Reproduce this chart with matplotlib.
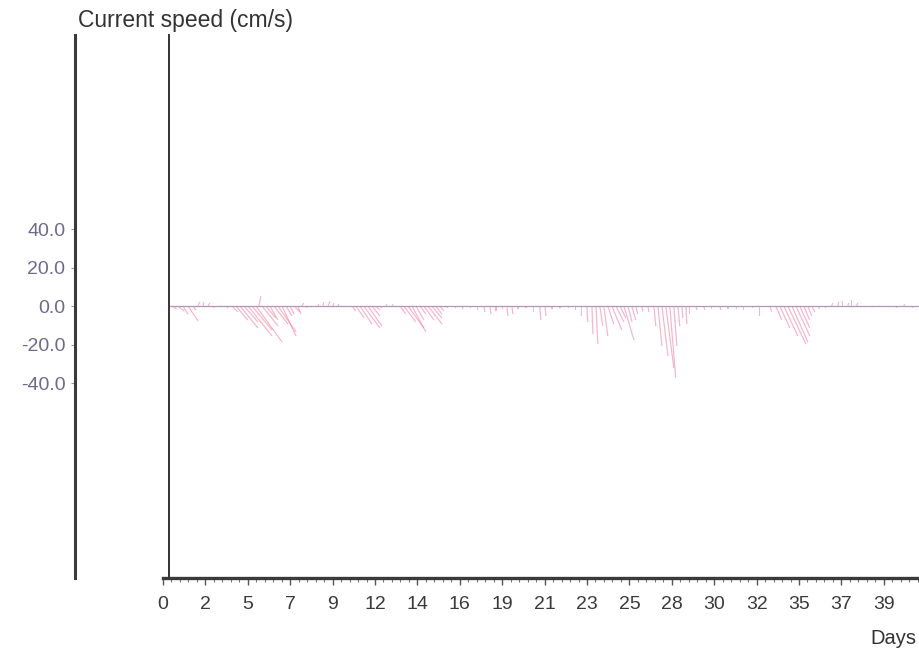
import numpy as np
import matplotlib
matplotlib.use("Agg")
import matplotlib.pyplot as plt
from matplotlib.ticker import FixedLocator, MultipleLocator

plt.rcParams['font.family'] = ['Liberation Sans', 'DejaVu Sans']

# ---------------- data ----------------
# time of each current vector (days)
days = [0.49, 0.82, 1.09, 1.37, 1.64, 1.91, 2.19, 2.46, 2.74, 3.12, 3.45,
        3.77, 3.99, 4.21, 4.43, 4.65, 4.87, 5.09, 5.25, 5.42, 5.63, 5.85,
        6.07, 6.29, 6.51, 6.73, 6.95, 7.17, 7.38, 7.60, 7.82, 8.10,
        8.48, 8.75, 9.03, 9.30, 9.57, 9.90,
        10.34, 10.56, 10.78, 10.99, 11.21, 11.43, 11.65, 11.87, 12.20, 12.53, 12.75,
        12.96, 13.18, 13.40, 13.62, 13.84, 14.06, 14.28, 14.50, 14.71, 14.93, 15.15, 15.48,
        15.97, 16.36, 16.79, 17.23, 17.56, 17.89, 18.22, 18.54, 18.82, 19.09, 19.42,
        19.86, 20.29, 20.62, 20.90, 21.28, 21.72, 22.15, 22.59, 22.92, 23.19, 23.47,
        23.69, 23.90, 24.12, 24.34, 24.56, 24.78, 25.00, 25.22, 25.44, 25.65, 25.87,
        26.20, 26.53,
        26.86, 27.08, 27.30, 27.51, 27.73, 27.95, 28.17, 28.39, 28.61, 28.83, 29.16,
        29.59, 30.03, 30.47, 30.91, 31.34, 31.78, 32.22, 32.66,
        33.20, 33.53, 33.75, 33.97, 34.19, 34.41, 34.63, 34.84, 35.06, 35.28, 35.50,
        35.83, 36.21,
        36.59, 36.92, 37.20, 37.47, 37.69, 37.96, 38.34, 38.78, 39.22, 39.66, 40.10,
        40.53, 40.97]

# eastward component (cm/s)
u = [2.6, 3.1, 2.6, 5.2, 1.6, 1.0, 0.5, 1.0, 0.5, 1.0, 1.0,
     3.1, 6.2, 9.4, 7.3, 12.5, 10.4, 13.5, 1.0, 8.3, 5.2, 4.2,
     7.3, 9.4, 7.3, 3.1, 2.1, 3.1, 1.6, 1.0, 0.5, 0.5,
     0.5, 0.5, 1.0, 0.5, 0.5, 0.5,
     2.1, 4.2, 6.2, 8.3, 7.3, 4.2, 2.1, 1.0, 0.5, 0.5, 0.5,
     3.1, 6.2, 8.3, 7.3, 4.2, 3.1, 5.2, 7.3, 5.2, 3.1, 2.1, 1.0,
     0.5, 0.5, 0.5, 0.0, 0.5, 0.5, 0.0, 0.5, 0.5, 0.5, 0.0,
     0.0, 0.0, 0.5, 0.5, 0.0, 0.0, 0.5, 0.0, 0.0, 0.5, 0.5,
     1.0, 1.6, 2.1, 3.1, 5.2, 4.2, 3.1, 5.2, 2.1, 2.1, 1.0,
     0.5, 0.5,
     1.0, 2.1, 3.1, 4.2, 3.1, 1.6, 1.0, 0.5, 0.5, 0.0, 0.5,
     0.5, 0.0, 0.5, 0.0, 0.5, 0.0, 0.5, 0.0,
     1.0, 3.1, 5.2, 7.3, 9.4, 8.3, 7.3, 5.2, 3.1, 2.1, 1.6,
     1.0, 0.5,
     0.5, 0.5, 0.0, 0.5, 0.0, 0.5, 0.5, 0.5, 0.0, 0.5, 0.5,
     0.5, 0.5]

# northward component (cm/s)
v = [-1.6, -2.6, -4.2, -7.8, -2.1, 2.1, 2.1, 1.6, -1.0, -0.5, -1.0,
     -3.1, -7.3, -11.4, -8.3, -15.6, -12.5, -18.7, 5.2, -10.4, -6.2, -7.3,
     -9.4, -13.5, -15.6, -5.2, -4.2, -3.1, -4.2, 1.6, -1.0, -0.5,
     1.0, 2.1, 2.6, 1.6, 1.0, -0.5,
     -2.6, -6.2, -9.4, -11.4, -10.4, -5.2, -2.1, -1.0, 1.0, 1.0, -0.5,
     -4.2, -8.3, -11.4, -13.5, -7.3, -4.2, -7.3, -9.4, -6.2, -4.2, -2.6, -1.0,
     -1.0, -1.6, -1.0, -2.1, -3.1, -4.2, -2.6, -1.6, -5.2, -4.2, -1.6,
     -1.0, -3.1, -7.3, -5.2, -1.6, -1.0, -1.0, -2.1, -5.2, -8.3, -14.6,
     -19.8, -10.4, -15.6, -9.4, -12.5, -8.3, -6.2, -17.7, -8.3, -7.3, -4.2,
     -2.6, -3.1,
     -10.4, -20.8, -26.0, -32.2, -37.4, -20.8, -10.4, -6.2, -9.4, -4.2, -2.1,
     -2.1, -1.6, -2.1, -1.6, -1.6, -2.1, -1.0, -5.2,
     -3.1, -7.3, -11.4, -15.6, -19.8, -18.7, -15.6, -11.4, -7.3, -5.2, -3.1,
     -1.6, -1.0,
     1.6, 2.1, 2.6, 1.6, 3.1, 1.6, -0.5, -0.5, -0.5, -0.5, -1.0,
     1.0, -1.0]

xtick_labels = ['0', '2', '5', '7', '9', '12', '14', '16', '19', '21', '23',
                '25', '28', '30', '32', '35', '37', '39']
ytick_values = [40, 20, 0, -20, -40]
ytick_labels = ['40.0', '20.0', '0.0', '-20.0', '-40.0']

# ---------------- figure ----------------
W, H = 919, 659
fig = plt.figure(figsize=(W / 100, H / 100), dpi=100)
x0, x1 = 163, 919
y_top, y_bot = 35, 578
ax = fig.add_axes([x0 / W, 1 - y_bot / H, (x1 - x0) / W, (y_bot - y_top) / H])

tick_step = 2.32
ax.set_xlim(0, (x1 - x0) / 42.4 * tick_step)
ax.set_ylim(-141.3, 140.8)

# zero line
ax.axhline(0, xmin=6 / (x1 - x0), color='#a89bb8', lw=0.9, zorder=1)

# stick plot
ax.quiver(days, np.zeros(len(days)), u, v, angles='uv', scale_units='y',
          scale=1, color='#f27a9e', alpha=0.55, width=0.0016,
          headwidth=1, headlength=0, headaxislength=0, pivot='tail', zorder=2)

# spines
for s in ['top', 'right']:
    ax.spines[s].set_visible(False)
ax.spines['left'].set_position(('axes', 6 / (x1 - x0)))
ax.spines['left'].set_color('#333333')
ax.spines['left'].set_linewidth(1.4)
ax.spines['bottom'].set_color('#3a3a3a')
ax.spines['bottom'].set_linewidth(2.4)
ax.set_yticks([])

# x ticks
ax.xaxis.set_major_locator(FixedLocator(np.arange(len(xtick_labels)) * tick_step))
ax.set_xticklabels(xtick_labels)
ax.xaxis.set_minor_locator(MultipleLocator(tick_step / 5))
ax.tick_params(axis='x', which='major', direction='out', length=5, width=1,
               color='#555555', labelsize=14, labelcolor='#3a3a3a', pad=8)
ax.tick_params(axis='x', which='minor', direction='out', length=3, width=0.8,
               color='#777777')

# outer y axis with labels
sec = ax.secondary_yaxis((75 - x0) / (x1 - x0))
sec.set_yticks(ytick_values)
sec.set_yticklabels(ytick_labels)
sec.spines['left'].set_color('#3a3a3a')
sec.spines['left'].set_linewidth(2.2)
sec.tick_params(axis='y', direction='out', length=3, width=0.8, color='#999999',
                labelsize=14, labelcolor='#6e6a8a', pad=4)

fig.text(78 / W, 1 - 20 / H, 'Current speed (cm/s)', fontsize=16.5,
         color='#333333', ha='left', va='center')
fig.text(916 / W, 1 - 638 / H, 'Days', fontsize=14.5, color='#333333',
         ha='right', va='center')

fig.savefig('out.png', dpi=100)
